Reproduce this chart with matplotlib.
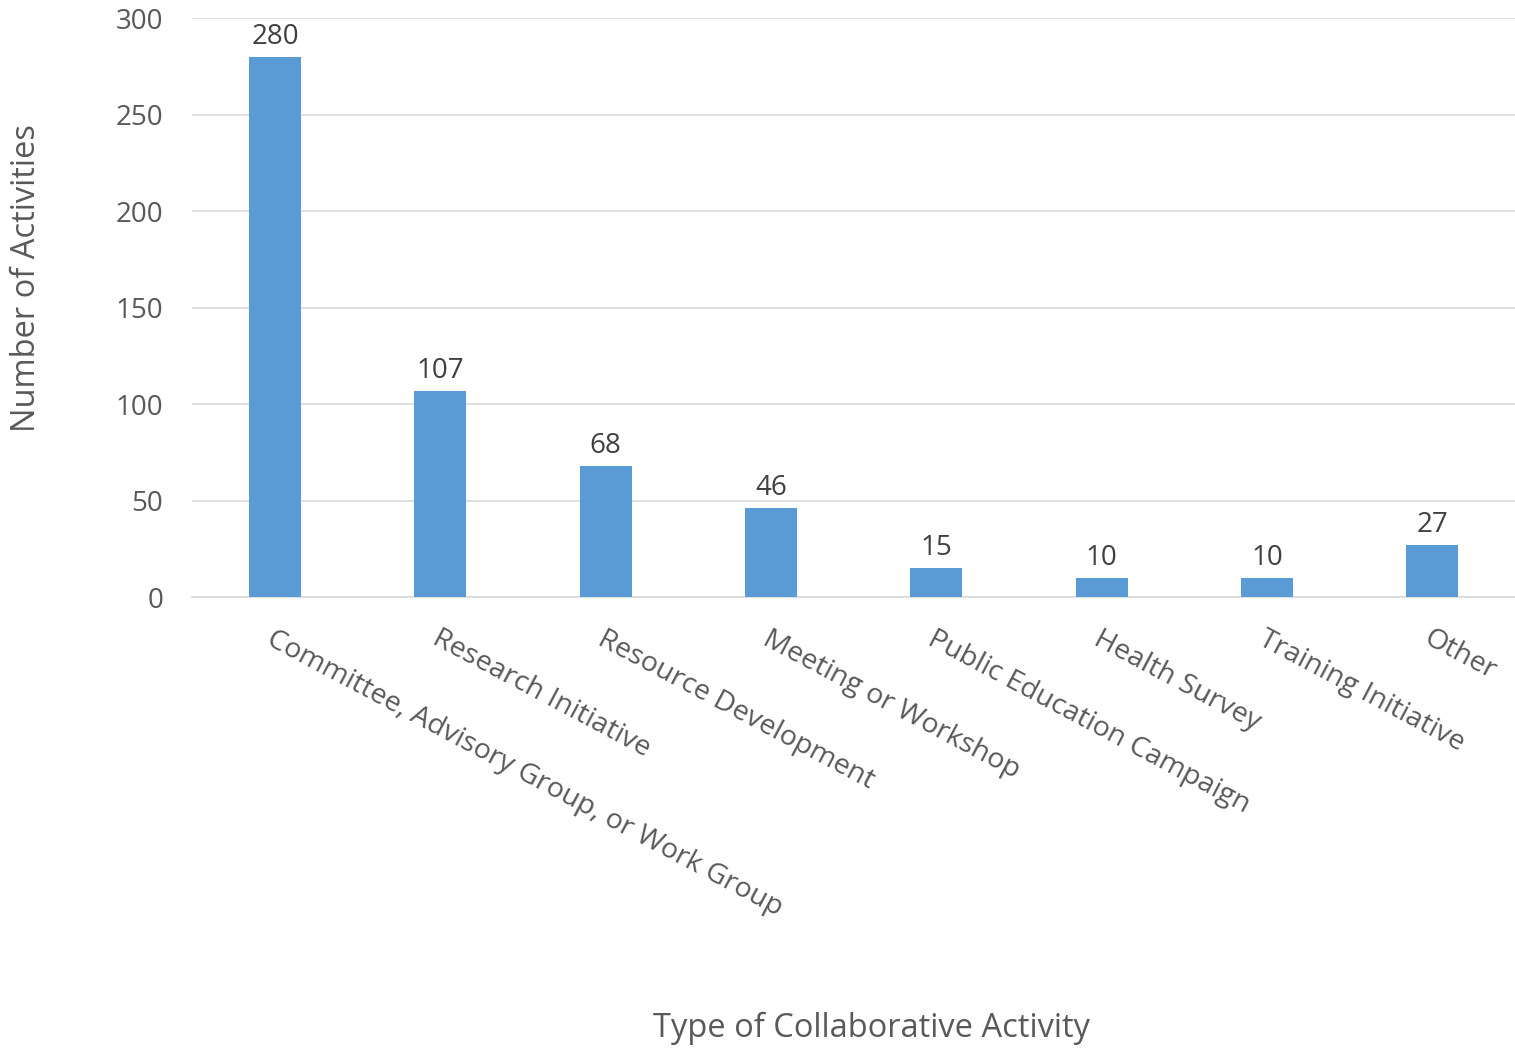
import matplotlib
matplotlib.use("Agg")
import matplotlib.pyplot as plt

plt.rcParams['font.family'] = ['Open Sans', 'DejaVu Sans']

categories = ["Committee, Advisory Group, or Work Group", "Research Initiative",
              "Resource Development", "Meeting or Workshop", "Public Education Campaign",
              "Health Survey", "Training Initiative", "Other"]
counts = [280, 107, 68, 46, 15, 10, 10, 27]
y_ticks = [0, 50, 100, 150, 200, 250, 300]

fig = plt.figure(figsize=(15.15, 10.48), dpi=100)
ax = fig.add_axes([0.127, 0.4303, 0.873, 0.5525])

x = list(range(len(categories)))
ax.bar(x, counts, width=0.315, color='#5B9BD5', zorder=3)
for xi, v in zip(x, counts):
    ax.text(xi, v + 3, str(v), ha='center', va='bottom', fontsize=20, color='#404040')

ax.set_xlim(-0.5, len(categories) - 0.5)
ax.set_ylim(0, 300)
ax.set_yticks(y_ticks)
ax.yaxis.grid(True, color='#D9D9D9', linewidth=1.2, zorder=0)
for s in ['top', 'right', 'left']:
    ax.spines[s].set_visible(False)
ax.spines['bottom'].set_color('#D9D9D9')
ax.spines['bottom'].set_linewidth(1.2)
ax.tick_params(axis='both', length=0, labelsize=20, colors='#595959')
ax.tick_params(axis='y', pad=21)

ax.set_xticks(x)
ax.set_xticklabels(categories, rotation=-28, ha='left', va='top', rotation_mode='anchor',
                   fontsize=20.5)
ax.tick_params(axis='x', pad=20)

fig.text(27 / 1515, 1 - 278 / 1048, "Number of Activities", rotation=90, ha='center',
         va='center', fontsize=23.5, color='#595959')
fig.text(0.5755, 0.019, "Type of Collaborative Activity", ha='center', va='center',
         fontsize=23.5, color='#595959')

fig.savefig("out.png", dpi=100)
